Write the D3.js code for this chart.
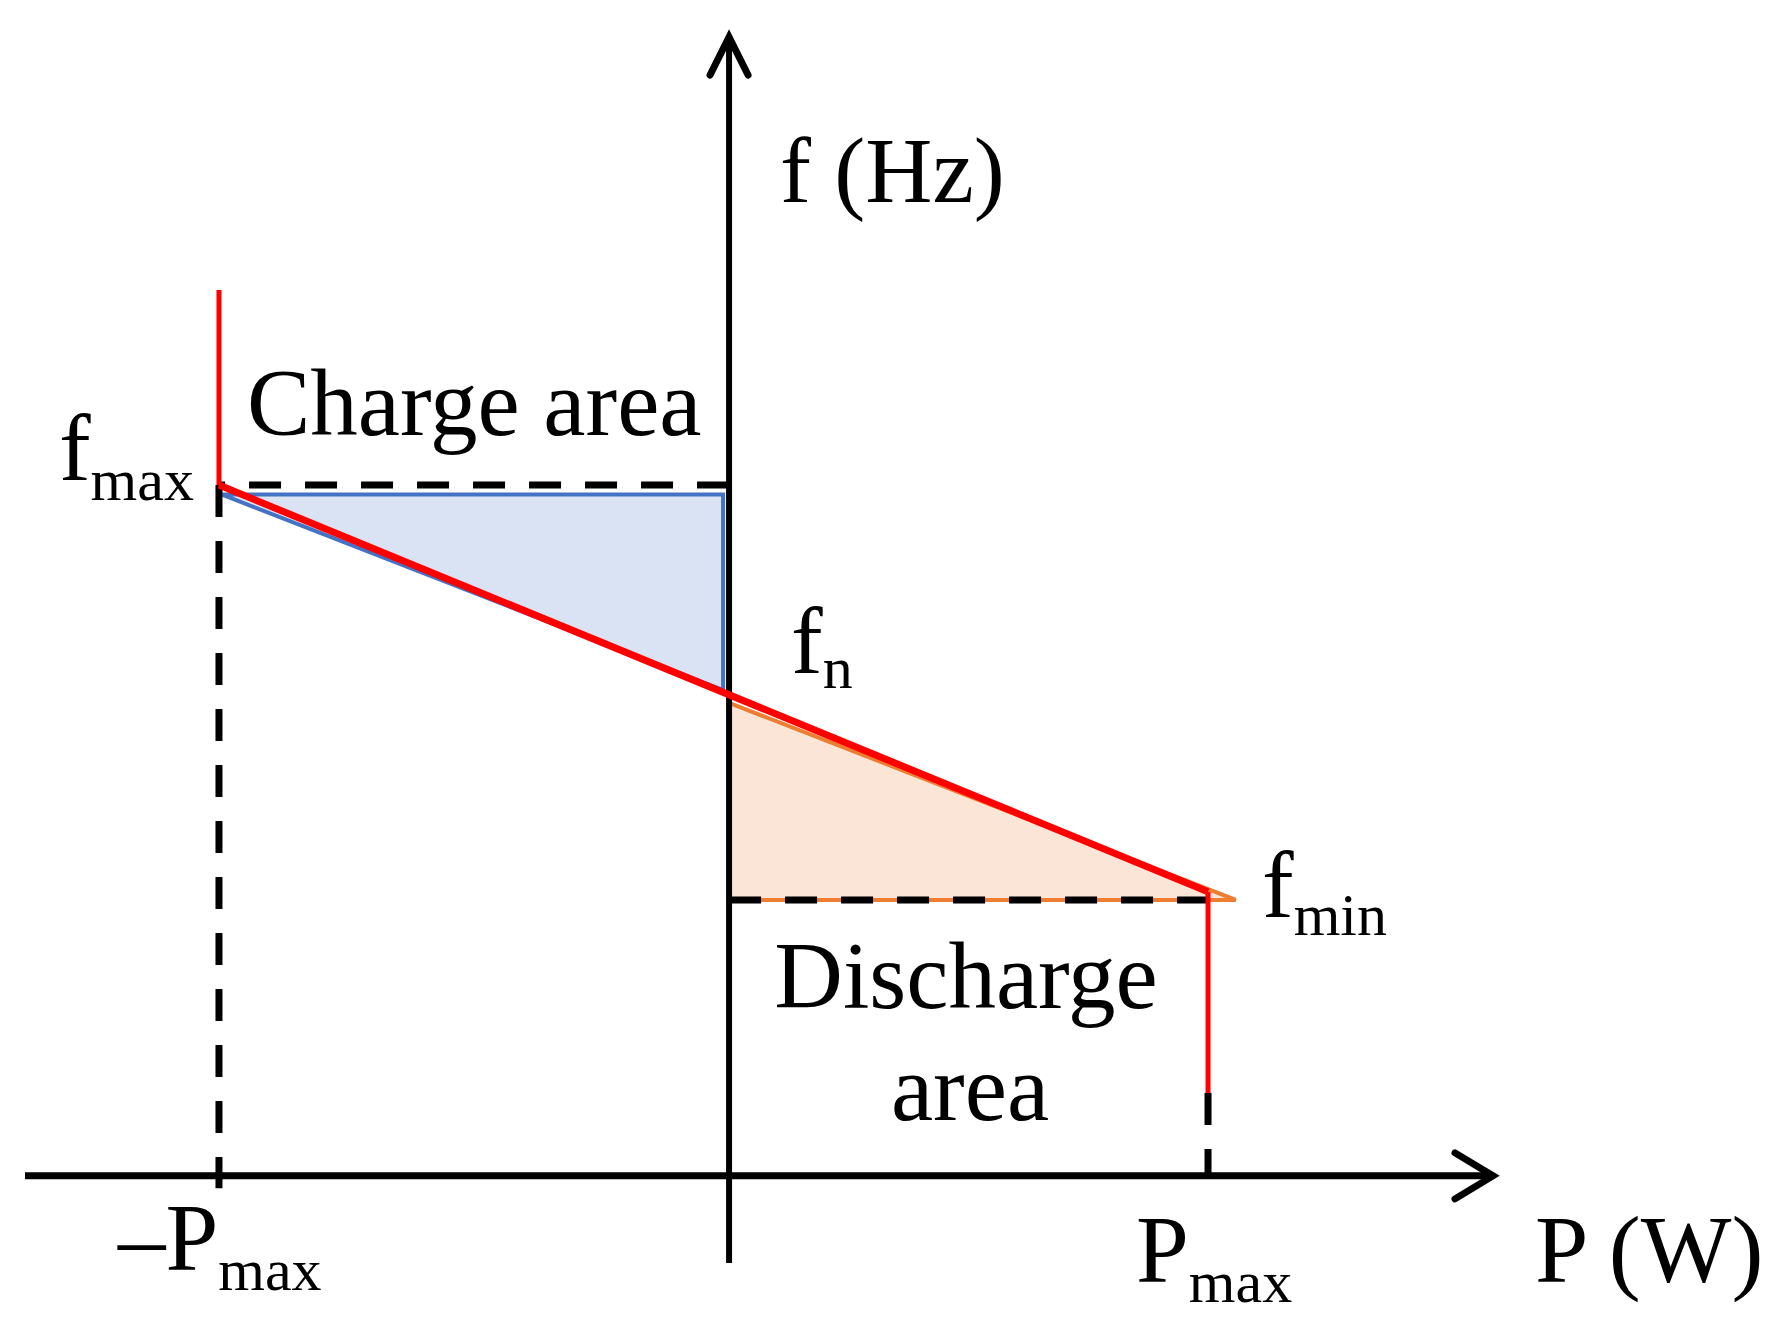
<!DOCTYPE html>
<html>
<head>
<meta charset="utf-8">
<script src="https://cdn.jsdelivr.net/npm/d3@7"></script>
<style>
  html, body { margin: 0; padding: 0; background: #fff; }
  svg { display: block; }
  text { font-family: "Liberation Serif", "Times New Roman", serif; fill: #000; }
</style>
</head>
<body>
<svg id="chart" width="1790" height="1338"></svg>
<script>
// ---- data (P in per-unit of Pmax, f relative to fn in units of (fmax - fn)) ----
const pMaxNeg = -1.065;
const pMax = 1.0;
const fMax = 1.0;
const fN = 0.0;
const fMin = -1.0;

const pAxisExtent = [-1.47, 1.595];
const fAxisExtent = [-2.75, 3.16];
const pAxisLevel = -2.33;          // f value where P-axis crosses

const droopLine = [[pMaxNeg, 1.0], [pMax, -0.96]];
const upperLimit = [[pMaxNeg, 1.94], [pMaxNeg, 1.0]];
const lowerLimit = [[pMax, -0.96], [pMax, -1.93]];

const chargeTriangle = [[-1.06, 0.955], [-0.0125, 0.955], [-0.0125, 0.012]];
const dischargeTriangle = [[0.0, -0.05], [0.0, -1.0], [1.058, -1.0]];

// dashed guides, each drawn starting from its first point
const dashedGuides = [
  [[0, fMax], [pMaxNeg, fMax]],
  [[0, fMin], [pMax, fMin]],
  [[pMaxNeg, fMax], [pMaxNeg, -2.39]],
  [[pMax, -1.93], [pMax, pAxisLevel]]
];

const categories = ["Charge area", "Discharge", "area"];
const pTickLabels = [{main: "\u2013P", sub: "max", value: pMaxNeg}, {main: "P", sub: "max", value: pMax}];
const fTickLabels = [{main: "f", sub: "max", value: fMax}, {main: "f", sub: "n", value: fN}, {main: "f", sub: "min", value: fMin}];
const axisTitles = ["P (W)", "f (Hz)"];

// ---- scales ----
const x = d3.scaleLinear().domain(pAxisExtent).range([25, 1493]);
const y = d3.scaleLinear().domain(fAxisExtent).range([1263, 37]);

const svg = d3.select("#chart");
const line = d3.line().x(d => x(d[0])).y(d => y(d[1]));

// triangles
svg.append("path").attr("d", line(chargeTriangle) + "Z")
  .attr("fill", "#dae3f3").attr("stroke", "#4472c4").attr("stroke-width", 4).attr("stroke-linejoin", "miter");
svg.append("path").attr("d", line(dischargeTriangle) + "Z")
  .attr("fill", "#fbe5d6").attr("stroke", "#ed7d31").attr("stroke-width", 4).attr("stroke-linejoin", "miter");

// dashed guide lines
dashedGuides.forEach(seg => svg.append("path").attr("d", line(seg))
  .attr("stroke", "#000").attr("stroke-width", 7).attr("stroke-dasharray", "32,24").attr("fill", "none"));

// axes
svg.append("line").attr("x1", x(pAxisExtent[0])).attr("x2", x(pAxisExtent[1]))
  .attr("y1", y(pAxisLevel)).attr("y2", y(pAxisLevel)).attr("stroke", "#000").attr("stroke-width", 7);
svg.append("line").attr("x1", x(0)).attr("x2", x(0))
  .attr("y1", y(fAxisExtent[0])).attr("y2", y(fAxisExtent[1])).attr("stroke", "#000").attr("stroke-width", 6);
// arrowheads
const xt = [x(pAxisExtent[1]), y(pAxisLevel)];
svg.append("path").attr("d", `M${xt[0]-38},${xt[1]-23} L${xt[0]},${xt[1]} L${xt[0]-38},${xt[1]+23}`)
  .attr("fill", "none").attr("stroke", "#000").attr("stroke-width", 7).attr("stroke-linecap", "round").attr("stroke-linejoin", "miter");
const yt = [x(0), y(fAxisExtent[1])];
svg.append("path").attr("d", `M${yt[0]-19},${yt[1]+38} L${yt[0]},${yt[1]} L${yt[0]+19},${yt[1]+38}`)
  .attr("fill", "none").attr("stroke", "#000").attr("stroke-width", 7).attr("stroke-linecap", "round").attr("stroke-linejoin", "miter");

// red characteristic
svg.append("path").attr("d", line(droopLine)).attr("stroke", "#ff0000").attr("stroke-width", 7).attr("fill", "none");
svg.append("path").attr("d", line(upperLimit)).attr("stroke", "#ff0000").attr("stroke-width", 5).attr("fill", "none");
svg.append("path").attr("d", line(lowerLimit)).attr("stroke", "#ff0000").attr("stroke-width", 5).attr("fill", "none");

// ---- text ----
const big = 95, small = 60;
function subLabel(px, py, lab, dy, size) {
  const t = svg.append("text").attr("x", px).attr("y", py).attr("font-size", size || big);
  t.append("tspan").text(lab.main);
  t.append("tspan").attr("dy", dy).attr("font-size", small).text(lab.sub);
}
// f labels
subLabel(x(pMaxNeg) - 160, y(fMax) - 5, fTickLabels[0], 20);
subLabel(x(0) + 62, y(fN) - 20, fTickLabels[1], 15);
subLabel(x(pMax) + 54, y(fMin) + 17, fTickLabels[2], 18);
// P labels
subLabel(x(pMaxNeg) - 101, y(pAxisLevel) + 94, pTickLabels[0], 20);
subLabel(x(pMax) - 72, y(pAxisLevel) + 106, pTickLabels[1], 20);

svg.append("text").attr("x", 1535).attr("y", y(pAxisLevel) + 106).attr("font-size", 96).text(axisTitles[0]);
svg.append("text").attr("x", x(0) + 51).attr("y", 202).attr("font-size", 93).text(axisTitles[1]);

svg.append("text").attr("x", 247).attr("y", 435).attr("font-size", big).text(categories[0]);
svg.append("text").attr("x", 966).attr("y", 1008).attr("text-anchor", "middle").attr("font-size", big).text(categories[1]);
svg.append("text").attr("x", 970).attr("y", 1120).attr("text-anchor", "middle").attr("font-size", big).text(categories[2]);
</script>
</body>
</html>
